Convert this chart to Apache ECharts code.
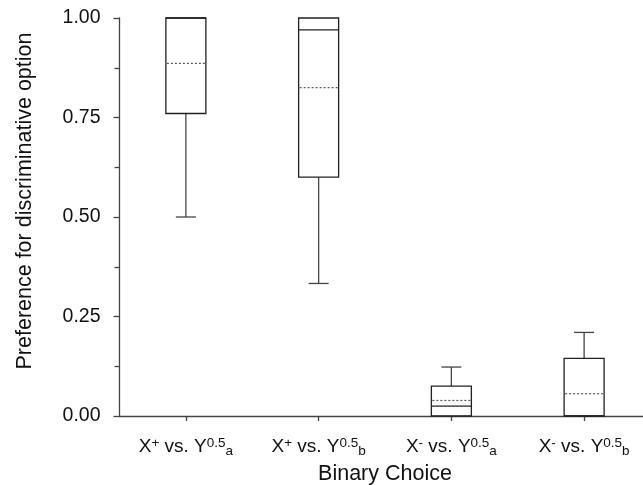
<!DOCTYPE html>
<html>
<head>
<meta charset="utf-8">
<script src="https://cdn.jsdelivr.net/npm/echarts@6/dist/echarts.min.js"></script>
<style>html,body{margin:0;padding:0;background:#fff;}#chart{width:643px;height:485px;}</style>
</head>
<body>
<div id="chart"></div>
<script>
// Category labels as rich text pieces: [base, superscript-on-X, superscript-on-Y, subscript]
const categories = ['X+ vs. Y0.5a', 'X+ vs. Y0.5b', 'X- vs. Y0.5a', 'X- vs. Y0.5b'];
const labelXSup = ['+', '+', '-', '-'];
const labelSub = ['a', 'b', 'a', 'b'];
const lowWhisker  = [0.50, 0.333, 0.000, 0.000];
const q1          = [0.76, 0.600, 0.000, 0.000];
const median      = [1.00, 0.970, 0.025, 0.000];
const q3          = [1.00, 1.000, 0.075, 0.145];
const highWhisker = [1.00, 1.000, 0.123, 0.210];
const mean        = [0.886, 0.825, 0.039, 0.056];
const yTicks = [0, 0.25, 0.5, 0.75, 1.0];

const FONT = '"Liberation Sans", Arial, Helvetica, sans-serif';
const TXT = '#111';

const data = categories.map((c, i) => [i, lowWhisker[i], q1[i], median[i], q3[i], highWhisker[i], mean[i]]);

const chart = echarts.init(document.getElementById('chart'), null, {renderer: 'canvas'});

function renderItem(params, api) {
  const i = api.value(0);
  const bw = 40;
  const cw = bw / 2;
  const pt = k => api.coord([i, api.value(k)]);
  const pMin = pt(1), pQ1 = pt(2), pMed = pt(3), pQ3 = pt(4), pMax = pt(5), pMean = pt(6);
  const cx = pQ1[0];
  const solid = {stroke: '#222', lineWidth: 1.3, fill: null};
  const whisk = {stroke: '#444', lineWidth: 1.3, fill: null};
  const children = [];
  if (api.value(5) > api.value(4)) {
    children.push({type: 'line', shape: {x1: cx, y1: pQ3[1], x2: cx, y2: pMax[1]}, style: whisk});
    children.push({type: 'line', shape: {x1: cx - cw / 2, y1: pMax[1], x2: cx + cw / 2, y2: pMax[1]}, style: whisk});
  }
  if (api.value(1) < api.value(2)) {
    children.push({type: 'line', shape: {x1: cx, y1: pQ1[1], x2: cx, y2: pMin[1]}, style: whisk});
    children.push({type: 'line', shape: {x1: cx - cw / 2, y1: pMin[1], x2: cx + cw / 2, y2: pMin[1]}, style: whisk});
  }
  children.push({type: 'rect', shape: {x: cx - bw / 2, y: pQ3[1], width: bw, height: pQ1[1] - pQ3[1]}, style: {stroke: '#222', lineWidth: 1.3, fill: 'none'}});
  children.push({type: 'line', shape: {x1: cx - bw / 2, y1: pMed[1], x2: cx + bw / 2, y2: pMed[1]}, style: solid});
  children.push({type: 'line', shape: {x1: cx - bw / 2 + 1, y1: pMean[1], x2: cx + bw / 2 - 1, y2: pMean[1]}, style: {stroke: '#555', lineWidth: 1.2, lineDash: [2, 2], fill: null}});
  return {type: 'group', children: children};
}

const option = {
  backgroundColor: '#fff',
  animation: false,
  grid: {left: 119.5, width: 531, top: 18, height: 398, containLabel: false, outerBoundsMode: 'none'},
  xAxis: {
    type: 'category',
    data: categories,
    boundaryGap: true,
    name: 'Binary Choice',
    nameLocation: 'middle',
    nameGap: 33,
    nameTextStyle: {fontFamily: FONT, fontSize: 21.5, color: TXT},
    axisLine: {show: true, lineStyle: {color: '#444', width: 1.3}},
    axisTick: {show: true, alignWithLabel: true, length: 5, lineStyle: {color: '#444', width: 1.3}},
    splitLine: {show: false},
    axisLabel: {
      margin: 20,
      interval: 0,
      fontFamily: FONT,
      color: TXT,
      formatter: (v, idx) => '{n|X}{sp|' + labelXSup[idx] + '}{n| vs. Y}{sp|0.5}{sb|' + labelSub[idx] + '}',
      rich: {
        n: {fontFamily: FONT, fontSize: 19, lineHeight: 22, verticalAlign: 'middle', color: TXT},
        sp: {fontFamily: FONT, fontSize: 13.5, lineHeight: 4, verticalAlign: 'top', color: TXT},
        sb: {fontFamily: FONT, fontSize: 13.5, lineHeight: 10, verticalAlign: 'bottom', color: TXT}
      }
    }
  },
  yAxis: {
    type: 'value',
    min: yTicks[0],
    max: yTicks[yTicks.length - 1],
    interval: 0.25,
    name: 'Preference for discriminative option',
    nameLocation: 'middle',
    nameRotate: 90,
    nameGap: 83,
    nameTextStyle: {fontFamily: FONT, fontSize: 21.5, color: TXT, padding: [0, 0, 0, 32]},
    axisLine: {show: true, lineStyle: {color: '#444', width: 1.3}},
    axisTick: {show: true, inside: false, length: 6, lineStyle: {color: '#444', width: 1.3}},
    minorTick: {show: true, splitNumber: 2, length: 5, lineStyle: {color: '#444', width: 1.3}},
    splitLine: {show: false},
    minorSplitLine: {show: false},
    axisLabel: {margin: 19, fontFamily: FONT, fontSize: 19.5, color: TXT, formatter: v => v.toFixed(2)}
  },
  series: [{
    type: 'custom',
    renderItem: renderItem,
    encode: {x: 0, y: [1, 2, 3, 4, 5, 6]},
    data: data,
    clip: false
  }]
};
chart.setOption(option);
</script>
</body>
</html>
